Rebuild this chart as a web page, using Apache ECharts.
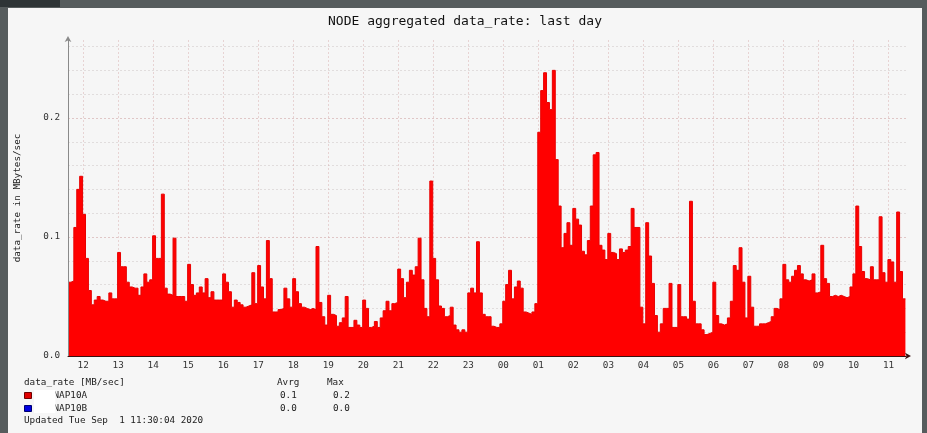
<!DOCTYPE html>
<html><head><meta charset="utf-8">
<script src="https://cdn.jsdelivr.net/npm/echarts@6/dist/echarts.min.js"></script>
<style>html,body{margin:0;padding:0;background:#565c5d;}#c{width:927px;height:433px;}</style>
</head><body><div id="c"></div>
<script>
// time in minutes after Aug 31 00:00
const startMinute = 694;   // ~11:34 Aug 31
const endMinute = 2130;    // 11:30 Sep 1
const stepMinutes = 5;
const hourTicks = [720,780,840,900,960,1020,1080,1140,1200,1260,1320,1380,1440,1500,1560,1620,1680,1740,1800,1860,1920,1980,2040,2100];
const hourLabels = ['12','13','14','15','16','17','18','19','20','21','22','23','00','01','02','03','04','05','06','07','08','09','10','11'];
const yTicks = [0,0.02,0.04,0.06,0.08,0.1,0.12,0.14,0.16,0.18,0.2,0.22,0.24,0.26];
const yLabelValues = [0,0.1,0.2];
const nap10a = [
0.062,0.063,0.108,0.140,0.151,0.119,0.082,0.055,0.043,0.047,
0.050,0.047,0.046,0.046,0.053,0.048,0.048,0.087,0.075,0.075,
0.062,0.058,0.057,0.057,0.051,0.058,0.069,0.062,0.064,0.101,
0.082,0.082,0.136,0.057,0.052,0.051,0.099,0.050,0.050,0.050,
0.046,0.077,0.060,0.051,0.053,0.058,0.053,0.065,0.049,0.054,
0.047,0.047,0.047,0.069,0.062,0.054,0.041,0.047,0.045,0.043,
0.041,0.042,0.043,0.070,0.044,0.076,0.058,0.048,0.097,0.065,
0.037,0.037,0.039,0.040,0.057,0.048,0.041,0.065,0.054,0.044,
0.041,0.040,0.039,0.040,0.039,0.092,0.045,0.033,0.026,0.051,
0.035,0.034,0.025,0.028,0.032,0.050,0.024,0.024,0.030,0.026,
0.024,0.047,0.040,0.024,0.025,0.029,0.024,0.032,0.038,0.046,
0.038,0.044,0.045,0.073,0.065,0.049,0.062,0.072,0.068,0.075,
0.099,0.064,0.040,0.033,0.147,0.082,0.064,0.042,0.040,0.033,
0.034,0.041,0.026,0.022,0.020,0.022,0.020,0.053,0.057,0.053,
0.096,0.053,0.035,0.033,0.033,
0.025,0.024,0.024,0.027,0.046,0.060,0.072,0.048,0.058,0.063,
0.057,0.037,0.036,0.035,0.037,0.044,0.188,0.223,0.238,0.213,
0.207,0.240,0.165,0.126,0.091,0.103,0.112,0.093,0.124,0.115,
0.110,0.088,0.085,0.097,0.126,0.169,0.171,0.093,0.089,0.081,
0.103,0.087,0.086,0.081,0.090,0.087,0.089,0.092,0.124,0.108,
0.108,0.041,0.027,0.112,0.084,0.061,0.034,0.020,0.027,0.040,
0.040,0.061,0.024,0.024,0.060,0.033,0.033,0.031,0.130,0.046,
0.027,0.027,0.022,0.018,0.019,0.020,0.062,0.034,0.027,0.026,
0.027,0.032,0.046,0.076,0.072,0.091,0.062,0.032,0.067,0.041,
0.025,0.025,0.027,0.027,0.028,0.029,0.033,0.040,0.039,0.048,
0.077,0.064,0.062,0.067,0.072,0.076,0.069,0.064,0.063,0.064,
0.069,0.053,0.054,0.093,0.065,0.061,0.050,0.051,0.050,0.051,
0.050,0.049,0.050,0.058,0.069,0.126,0.092,0.071,0.065,0.064,
0.075,0.064,0.064,0.117,0.070,0.062,0.081,0.079,0.062,0.121,
0.071,0.048
];
const legendHeader = 'data_rate [MB/sec]';
const seriesNames = ['NAP10A','NAP10B'];
const avrgValues = ['0.1','0.0'];
const maxValues = ['0.2','0.0'];
const titleText = 'NODE aggregated data_rate: last day';
const yName = 'data_rate in MBytes/sec';
const updatedText = 'Updated Tue Sep  1 11:30:04 2020';

const pts = nap10a.map((v, i) => [startMinute + i * stepMinutes, v]);
pts.push([startMinute + nap10a.length * stepMinutes, nap10a[nap10a.length - 1]]);

const MONO = 'DejaVu Sans Mono';
const FS = 9.3;
const chart = echarts.init(document.getElementById('c'), null, {renderer: 'canvas'});
const txt = (x, y, s, extra) => Object.assign({type: 'text', x, y, z: 100, style: Object.assign({text: s, font: FS + 'px "' + MONO + '"', fill: '#222', verticalAlign: 'middle'}, extra || {})});
const minorGrid = 'rgba(200,190,190,0.45)';
const majorGrid = 'rgba(205,160,160,0.55)';
chart.setOption({
  animation: false,
  backgroundColor: '#565c5d',
  grid: {left: 68, right: 21, top: 40, bottom: 77, containLabel: false},
  xAxis: [{
    type: 'value', min: startMinute, max: endMinute,
    axisLine: {show: false},
    axisTick: {show: false, customValues: hourTicks},
    axisLabel: {customValues: hourTicks, formatter: v => hourLabels[hourTicks.indexOf(v)], fontFamily: MONO, fontSize: FS, color: '#333', margin: 5},
    splitLine: {show: true, lineStyle: {color: 'rgba(215,175,175,0.5)', type: [2, 2], width: 1}}
  }, {
    type: 'value', min: startMinute, max: endMinute, position: 'bottom', z: 10,
    axisLine: {show: true, onZero: false, lineStyle: {color: '#3a1010', width: 1}, symbol: ['none', 'arrow'], symbolSize: [5, 6], symbolOffset: [0, 5]},
    axisTick: {show: false}, axisLabel: {show: false}, splitLine: {show: false}
  }],
  yAxis: [{
    type: 'value', min: 0, max: 0.2655,
    axisLine: {show: false},
    axisTick: {show: false, customValues: yTicks},
    axisLabel: {customValues: yLabelValues, formatter: v => v.toFixed(1), fontFamily: MONO, fontSize: FS, color: '#333', margin: 8},
    splitLine: {show: true, lineStyle: {color: [majorGrid, minorGrid, minorGrid, minorGrid, minorGrid], type: [2, 2], width: 1}},
    name: yName, nameLocation: 'middle', nameGap: 46, nameRotate: 90,
    nameTextStyle: {fontFamily: MONO, fontSize: FS, color: '#222'}
  }, {
    type: 'value', min: 0, max: 0.2655, position: 'left', z: 10,
    axisLine: {show: true, lineStyle: {color: '#8a8a8a', width: 1}, symbol: ['none', 'arrow'], symbolSize: [5, 6], symbolOffset: [0, 4]},
    axisTick: {show: false}, axisLabel: {show: false}, splitLine: {show: false}
  }],
  series: [{
    type: 'line', step: 'end', symbol: 'none', data: pts, z: 2,
    lineStyle: {color: '#e80000', width: 1},
    areaStyle: {color: '#ff0000', opacity: 1}
  }],
  graphic: [
    {type: 'rect', z: -10, silent: true, shape: {x: 8, y: 8, width: 914, height: 425}, style: {fill: '#f6f6f6'}},
    {type: 'rect', z: -10, silent: true, shape: {x: 0, y: 0, width: 60, height: 7}, style: {fill: '#2e3436'}},
    {type: 'text', x: 465, y: 22, z: 100, style: {text: titleText, font: '13px "' + MONO + '"', fill: '#111', align: 'center', verticalAlign: 'middle'}},
    txt(24, 383, legendHeader),
    txt(277, 383, 'Avrg'),
    txt(327, 383, 'Max'),
    {type: 'rect', z: 100, shape: {x: 24.5, y: 392.5, width: 7, height: 6}, style: {fill: '#e00000', stroke: '#700000', lineWidth: 1}},
    {type: 'rect', z: 100, shape: {x: 24.5, y: 405.5, width: 7, height: 6}, style: {fill: '#0000e0', stroke: '#000070', lineWidth: 1}},
    txt(53.5, 395.5, seriesNames[0]),
    txt(53.5, 408.5, seriesNames[1]),
    {type: 'rect', z: 101, shape: {x: 34, y: 390, width: 21.5, height: 23}, style: {fill: '#ffffff'}},
    txt(280, 395.5, avrgValues[0]),
    txt(333, 395.5, maxValues[0]),
    txt(280, 408.5, avrgValues[1]),
    txt(333, 408.5, maxValues[1]),
    txt(24, 421, updatedText)
  ]
});
</script>
</body></html>
